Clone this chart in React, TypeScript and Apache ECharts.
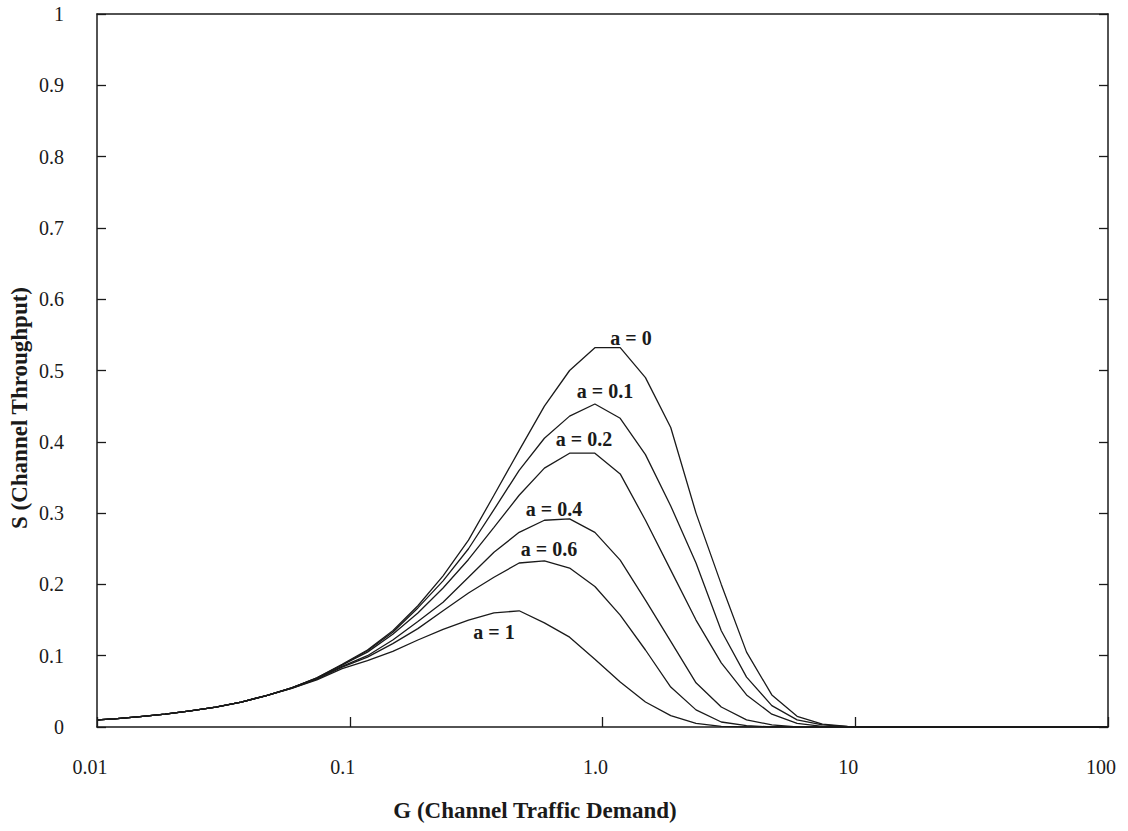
import React, { useEffect, useRef } from "react";
import * as echarts from "echarts";

// Channel traffic demand G (sample points of the curves)
const G_VALUES = [
  0.01, 0.0117, 0.0148, 0.0186, 0.0234, 0.0295, 0.0372, 0.0468, 0.0589, 0.0741,
  0.0933, 0.1175, 0.148, 0.186, 0.234, 0.295, 0.372, 0.468, 0.589, 0.741,
  0.933, 1.175, 1.479, 1.862, 2.344, 2.951, 3.715, 4.677, 5.888, 7.413,
  9.333, 11.75, 100,
];

// Channel throughput S for each a
const S_A0 = [
  0.0099, 0.0115, 0.0145, 0.018, 0.0225, 0.028, 0.035, 0.044, 0.055, 0.069,
  0.088, 0.108, 0.135, 0.17, 0.212, 0.262, 0.325, 0.388, 0.45, 0.5,
  0.532, 0.532, 0.49, 0.42, 0.3, 0.2, 0.105, 0.045, 0.015, 0.004,
  0.001, 0, 0,
];
const S_A01 = [
  0.0099, 0.0115, 0.0145, 0.018, 0.0225, 0.028, 0.035, 0.044, 0.055, 0.069,
  0.087, 0.107, 0.133, 0.167, 0.205, 0.25, 0.305, 0.36, 0.405, 0.436,
  0.453, 0.433, 0.382, 0.31, 0.23, 0.135, 0.07, 0.03, 0.01, 0.003,
  0.0005, 0, 0,
];
const S_A02 = [
  0.0099, 0.0115, 0.0145, 0.018, 0.0225, 0.028, 0.035, 0.044, 0.055, 0.068,
  0.087, 0.105, 0.13, 0.16, 0.195, 0.235, 0.28, 0.325, 0.363, 0.384,
  0.384, 0.355, 0.29, 0.22, 0.15, 0.09, 0.045, 0.018, 0.005, 0.001,
  0, 0, 0,
];
const S_A04 = [
  0.0099, 0.0115, 0.0145, 0.018, 0.0225, 0.028, 0.035, 0.044, 0.055, 0.068,
  0.085, 0.1, 0.122, 0.148, 0.175, 0.21, 0.245, 0.273, 0.29, 0.292,
  0.273, 0.234, 0.178, 0.12, 0.062, 0.028, 0.01, 0.003, 0, 0,
  0, 0, 0,
];
const S_A06 = [
  0.0099, 0.0115, 0.0145, 0.018, 0.0225, 0.028, 0.035, 0.044, 0.054, 0.067,
  0.084, 0.098, 0.117, 0.138, 0.163, 0.188, 0.21, 0.23, 0.233, 0.223,
  0.197, 0.157, 0.108, 0.056, 0.024, 0.007, 0.002, 0, 0, 0,
  0, 0, 0,
];
const S_A1 = [
  0.0099, 0.0115, 0.0145, 0.018, 0.0225, 0.028, 0.035, 0.044, 0.054, 0.066,
  0.082, 0.093, 0.106, 0.122, 0.137, 0.15, 0.16, 0.163, 0.146, 0.126,
  0.095, 0.063, 0.035, 0.016, 0.005, 0.001, 0, 0, 0, 0,
  0, 0, 0,
];

const SERIES_NAMES = ["a = 0", "a = 0.1", "a = 0.2", "a = 0.4", "a = 0.6", "a = 1"];
const SERIES_VALUES = [S_A0, S_A01, S_A02, S_A04, S_A06, S_A1];

const X_TICK_LABELS = ["0.01", "0.1", "1.0", "10", "100"];
const Y_TICK_LABELS = ["0", "0.1", "0.2", "0.3", "0.4", "0.5", "0.6", "0.7", "0.8", "0.9", "1"];

const X_NAME = "G (Channel Traffic Demand)";
const Y_NAME = "S (Channel Throughput)";

// curve label anchor positions (pixel centres)
const LABEL_POS: [number, number][] = [
  [631, 338],
  [605, 391],
  [584, 439],
  [554, 509],
  [549, 549],
  [494, 632],
];

const FONT = "'Liberation Serif', 'Times New Roman', serif";
const INK = "#1a1a1a";

export default function App() {
  const ref = useRef<HTMLDivElement>(null);
  useEffect(() => {
    if (!ref.current) return;
    const chart = echarts.init(ref.current, undefined, { renderer: "svg" });
    const axisCommon = {
      axisLine: { show: true, onZero: false, lineStyle: { color: INK, width: 1.5 } },
      splitLine: { show: false },
    };
    chart.setOption({
      animation: false,
      backgroundColor: "#ffffff",
      grid: { left: 97, top: 14, right: 20, bottom: 104, containLabel: false },
      xAxis: [
        {
          type: "log",
          logBase: 10,
          min: 0.01,
          max: 100,
          position: "bottom",
          ...axisCommon,
          axisTick: { show: true, inside: true, length: 10, lineStyle: { color: INK, width: 1.3 } },
          minorTick: { show: false },
          axisLabel: {
            margin: 30,
            fontFamily: FONT,
            fontSize: 20,
            color: INK,
            padding: [0, 14, 0, 0],
            formatter: (v: number) => X_TICK_LABELS[Math.round(Math.log10(v)) + 2] ?? "",
          },
        },
        {
          type: "log",
          logBase: 10,
          min: 0.01,
          max: 100,
          position: "top",
          ...axisCommon,
          axisTick: { show: false },
          axisLabel: { show: false },
        },
      ],
      yAxis: [
        {
          type: "value",
          min: 0,
          max: 1,
          interval: 0.1,
          position: "left",
          ...axisCommon,
          axisTick: { show: true, inside: true, length: 9, lineStyle: { color: INK, width: 1.3 } },
          axisLabel: {
            margin: 33,
            fontFamily: FONT,
            fontSize: 20,
            color: INK,
            formatter: (v: number) => Y_TICK_LABELS[Math.round(v * 10)] ?? "",
          },
        },
        {
          type: "value",
          min: 0,
          max: 1,
          interval: 0.1,
          position: "right",
          ...axisCommon,
          axisTick: { show: true, inside: true, length: 9, lineStyle: { color: INK, width: 1.3 } },
          axisLabel: { show: false },
        },
      ],
      series: SERIES_VALUES.map((vals, i) => ({
        name: SERIES_NAMES[i],
        type: "line",
        data: G_VALUES.map((g, j) => [g, vals[j]]),
        showSymbol: false,
        symbol: "none",
        silent: true,
        lineStyle: { color: INK, width: 1.3 },
        z: 3,
      })),
      graphic: [
        ...SERIES_NAMES.map((name, i) => ({
          type: "text",
          x: LABEL_POS[i][0],
          y: LABEL_POS[i][1],
          style: {
            text: name,
            fontFamily: FONT,
            fontSize: 20,
            fontWeight: "bold",
            fill: INK,
            align: "center",
            verticalAlign: "middle",
          },
        })),
        {
          type: "text",
          x: 535,
          y: 810,
          style: {
            text: X_NAME,
            fontFamily: FONT,
            fontSize: 23,
            fontWeight: "bold",
            fill: INK,
            align: "center",
            verticalAlign: "middle",
          },
        },
        {
          type: "text",
          x: 19,
          y: 408,
          rotation: Math.PI / 2,
          style: {
            text: Y_NAME,
            fontFamily: FONT,
            fontSize: 23,
            fontWeight: "bold",
            fill: INK,
            align: "center",
            verticalAlign: "middle",
          },
        },
      ],
    });
    return () => chart.dispose();
  }, []);
  return (
    <div
      ref={ref}
      style={{ position: "fixed", left: 0, top: 0, width: 1128, height: 831, background: "#fff" }}
    />
  );
}
